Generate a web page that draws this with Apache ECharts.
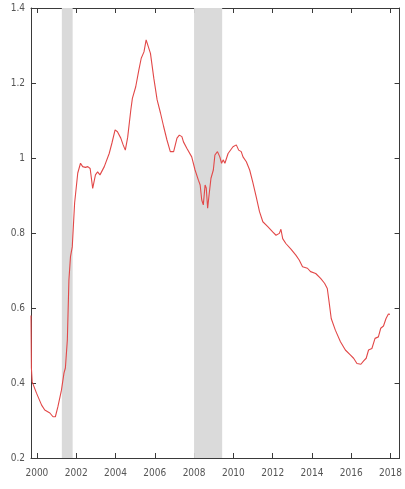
<!DOCTYPE html>
<html>
<head>
<meta charset="utf-8">
<title>Series with recession shading</title>
<script src="https://cdn.jsdelivr.net/npm/echarts@6/dist/echarts.min.js"></script>
<style>
  html, body { margin: 0; padding: 0; background: #ffffff; }
  #chart { width: 405px; height: 489px; }
</style>
</head>
<body>
<div id="chart"></div>
<script>
// Observation dates as decimal years
const years = [
  1999.70, 1999.72, 1999.76, 1999.98, 2000.24, 2000.40, 2000.66, 2000.82, 2000.94, 2001.07,
  2001.25, 2001.38, 2001.45, 2001.55, 2001.63, 2001.71, 2001.80, 2001.92, 2002.08, 2002.22,
  2002.33, 2002.47, 2002.59, 2002.71, 2002.84, 2002.98, 2003.09, 2003.21, 2003.43, 2003.68,
  2003.82, 2003.98, 2004.10, 2004.27, 2004.39, 2004.50, 2004.62, 2004.78, 2004.86, 2004.94,
  2005.03, 2005.19, 2005.31, 2005.45, 2005.56, 2005.65, 2005.78, 2005.95, 2006.12, 2006.29,
  2006.45, 2006.62, 2006.79, 2006.86, 2006.96, 2007.04, 2007.13, 2007.25, 2007.38, 2007.46,
  2007.63, 2007.88, 2008.05, 2008.22, 2008.31, 2008.39, 2008.47, 2008.56, 2008.62, 2008.69,
  2008.76, 2008.86, 2008.98, 2009.06, 2009.19, 2009.31, 2009.40, 2009.48, 2009.57, 2009.73,
  2009.98, 2010.15, 2010.27, 2010.40, 2010.49, 2010.66, 2010.83, 2010.99, 2011.16, 2011.33,
  2011.50, 2011.75, 2012.00, 2012.17, 2012.34, 2012.42, 2012.51, 2012.67, 2012.93, 2013.18,
  2013.35, 2013.52, 2013.77, 2013.93, 2014.19, 2014.44, 2014.64, 2014.78, 2014.86, 2014.98,
  2015.19, 2015.45, 2015.70, 2015.95, 2016.12, 2016.29, 2016.39, 2016.49, 2016.63, 2016.76,
  2016.88, 2017.05, 2017.21, 2017.38, 2017.50, 2017.64, 2017.77, 2017.89, 2017.97
];

// Series level at each date
const values = [
  0.580, 0.440, 0.403, 0.373, 0.341, 0.328, 0.320, 0.310, 0.310, 0.337,
  0.381, 0.427, 0.440, 0.515, 0.675, 0.737, 0.763, 0.880, 0.960, 0.986,
  0.977, 0.975, 0.977, 0.972, 0.919, 0.955, 0.963, 0.955, 0.977, 1.012,
  1.040, 1.075, 1.070, 1.053, 1.035, 1.021, 1.055, 1.128, 1.159, 1.155,
  1.190, 1.235, 1.266, 1.283, 1.315, 1.319, 1.279, 1.213, 1.155, 1.120,
  1.084, 1.048, 1.017, 1.020, 1.017, 1.017, 1.053, 1.061, 1.057, 1.043,
  1.026, 1.003, 0.968, 0.941, 0.928, 0.888, 0.875, 0.928, 0.920, 0.866,
  0.900, 0.946, 0.968, 1.008, 1.017, 1.003, 0.986, 0.995, 0.986, 1.012,
  1.030, 1.035, 1.021, 1.017, 1.003, 0.990, 0.968, 0.935, 0.897, 0.857,
  0.830, 0.817, 0.803, 0.794, 0.799, 0.810, 0.785, 0.772, 0.757, 0.741,
  0.728, 0.710, 0.706, 0.697, 0.692, 0.679, 0.666, 0.652, 0.621, 0.572,
  0.541, 0.510, 0.488, 0.475, 0.466, 0.452, 0.448, 0.450, 0.459, 0.466,
  0.488, 0.492, 0.519, 0.523, 0.546, 0.552, 0.572, 0.584, 0.583
];

// Recession periods (start, end) in decimal years
const recessionStarts = [2001.27, 2008.00];
const recessionEnds = [2001.82, 2009.43];

// Axis tick labels
const xTickYears = [2000, 2002, 2004, 2006, 2008, 2010, 2012, 2014, 2016, 2018];

const xMin = 1999.70;
const xMax = 2018.46;
const axisColor = '#3a3a3a';
const labelColor = '#555555';
const labelFont = "'DejaVu Sans Condensed', 'Liberation Sans Narrow', 'DejaVu Sans', sans-serif";

const points = years.map((y, i) => [y, values[i]]);
const shaded = recessionStarts.map((s, i) => [{ xAxis: s }, { xAxis: recessionEnds[i] }]);

function xAxisDef(position, showLabels) {
  return {
    type: 'value',
    position: position,
    min: xMin,
    max: xMax,
    axisLine: { show: true, onZero: false, lineStyle: { color: axisColor, width: 1 } },
    axisTick: {
      show: true, inside: true, length: 5,
      customValues: xTickYears,
      lineStyle: { color: axisColor, width: 1 }
    },
    axisLabel: {
      show: showLabels,
      customValues: xTickYears,
      formatter: v => String(Math.round(v)),
      color: labelColor,
      fontFamily: labelFont,
      fontSize: 10,
      margin: 10
    },
    splitLine: { show: false }
  };
}

function yAxisDef(position, showLabels) {
  return {
    type: 'value',
    position: position,
    min: 0.2,
    max: 1.4,
    interval: 0.2,
    axisLine: { show: true, onZero: false, lineStyle: { color: axisColor, width: 1 } },
    axisTick: { show: true, inside: true, length: 5, lineStyle: { color: axisColor, width: 1 } },
    axisLabel: {
      show: showLabels,
      formatter: v => String(Math.round(v * 10) / 10),
      color: labelColor,
      fontFamily: labelFont,
      fontSize: 10,
      margin: 6
    },
    splitLine: { show: false }
  };
}

const chart = echarts.init(document.getElementById('chart'), null, { renderer: 'canvas' });
chart.setOption({
  animation: false,
  backgroundColor: '#ffffff',
  grid: { left: 31, right: 2, top: 8, bottom: 31, containLabel: false },
  xAxis: [xAxisDef('bottom', true), xAxisDef('top', false)],
  yAxis: [yAxisDef('left', true), yAxisDef('right', false)],
  series: [{
    type: 'line',
    xAxisIndex: 0,
    yAxisIndex: 0,
    data: points,
    showSymbol: false,
    clip: true,
    lineStyle: { color: '#e24848', width: 1.1 },
    markArea: {
      silent: true,
      itemStyle: { color: '#dadada' },
      data: shaded
    },
    z: 3
  }]
});
</script>
</body>
</html>
